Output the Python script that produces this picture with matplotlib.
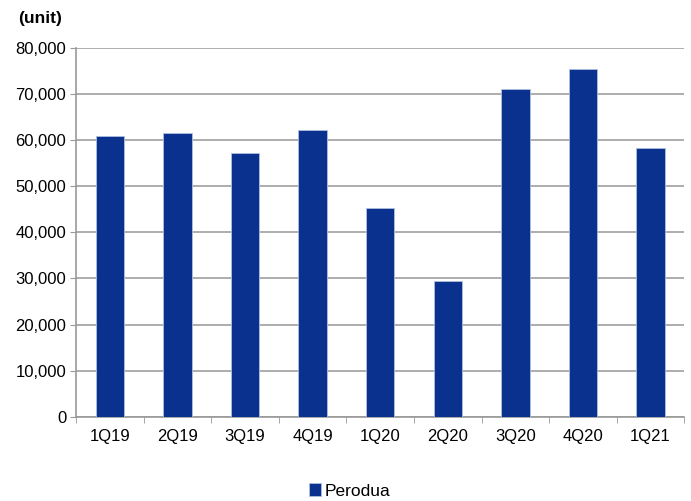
import numpy as np
import matplotlib.pyplot as plt
from matplotlib.ticker import FuncFormatter, FixedLocator

plt.rcParams['font.family'] = ['Liberation Sans', 'DejaVu Sans']

quarters = ['1Q19', '2Q19', '3Q19', '4Q19', '1Q20', '2Q20', '3Q20', '4Q20', '1Q21']
perodua = [60800, 61500, 57300, 62100, 45300, 29400, 71200, 75500, 58300]

fig = plt.figure(figsize=(6.91, 5.01), dpi=100)
ax = fig.add_axes([76 / 691, 1 - 416.7 / 501, (684.3 - 76) / 691, (416.7 - 48) / 501])

x = np.arange(len(quarters))
ax.bar(x, perodua, width=0.42, color='#0B318F', edgecolor='#AFC0E0', linewidth=0.6,
       label='Perodua', zorder=3)

ax.set_xlim(-0.5, len(quarters) - 0.5)
ax.set_ylim(0, 80000)
ax.set_yticks(np.arange(0, 80001, 10000))
ax.yaxis.set_major_formatter(FuncFormatter(lambda v, p: f'{int(v):,}'))
ax.grid(axis='y', color='#A0A0A0', linewidth=1.2, zorder=0)

ax.set_xticks(x)
ax.set_xticklabels(quarters)
ax.xaxis.set_minor_locator(FixedLocator(np.arange(-0.5, len(quarters), 1)))
ax.tick_params(axis='x', which='major', length=0, pad=9, labelsize=12)
ax.tick_params(axis='x', which='minor', length=4, color='#999999', direction='out')
ax.tick_params(axis='y', length=4, color='#999999', labelsize=12, pad=3)

for s in ['top', 'right']:
    ax.spines[s].set_visible(False)
for s in ['left', 'bottom']:
    ax.spines[s].set_color('#999999')
    ax.spines[s].set_linewidth(1.2)

fig.text(18 / 691, 1 - 19 / 501, '(unit)', fontsize=12.5, fontweight='bold', va='center')

fig.legend(loc='center', bbox_to_anchor=(350 / 691, 1 - 491 / 501), frameon=False,
           fontsize=12.5, handlelength=0.7, handleheight=0.7, handletextpad=0.2)

fig.savefig('out.png', dpi=100)
